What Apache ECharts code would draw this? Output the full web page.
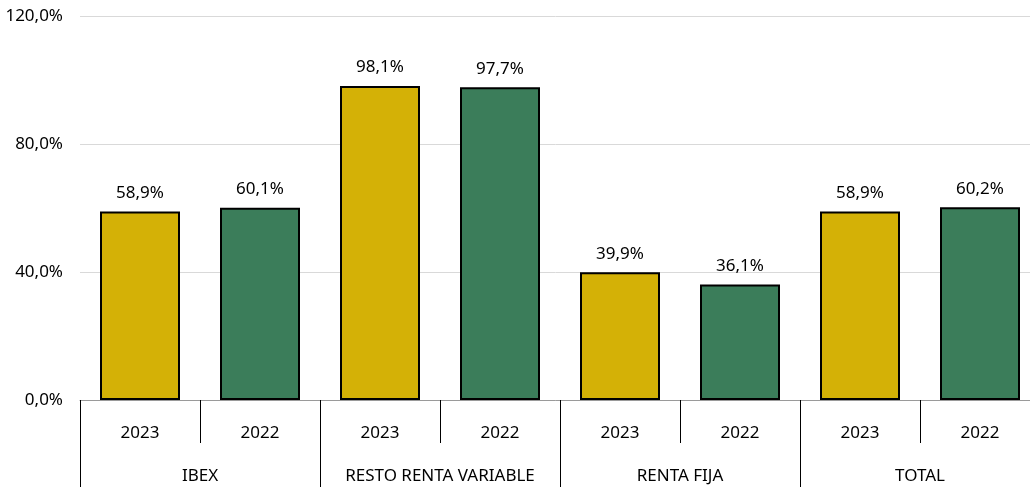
<!DOCTYPE html>
<html>
<head>
<meta charset="utf-8">
<script src="https://cdn.jsdelivr.net/npm/echarts@6/dist/echarts.min.js"></script>
<style>
html, body { margin: 0; padding: 0; background: #fff; }
#chart { width: 1030px; height: 488px; }
</style>
</head>
<body>
<div id="chart"></div>
<script>
var years = ["2023", "2022", "2023", "2022", "2023", "2022", "2023", "2022"];
var groups = ["IBEX", "RESTO RENTA VARIABLE", "RENTA FIJA", "TOTAL"];
var values = [58.9, 60.1, 98.1, 97.7, 39.9, 36.1, 58.9, 60.2];
var barColors = ["#D4B106", "#3B7D5A"];

function pct(v) {
    return v.toFixed(1).replace(".", ",") + "%";
}

var chart = echarts.init(document.getElementById("chart"));
var font = "Noto Sans";
var option = {
    animation: false,
    grid: { left: 80, width: 960, top: 16, bottom: 88, outerBoundsMode: "none" },
    xAxis: [{
        type: "category",
        data: years,
        position: "bottom",
        axisLine: { show: true, lineStyle: { color: "#9a9a9a", width: 1 } },
        axisTick: { show: true, interval: 0, length: 43, lineStyle: { color: "#000", width: 1 } },
        axisLabel: { interval: 0, margin: 25, color: "#000", fontSize: 17, fontFamily: font }
    }, {
        type: "category",
        data: groups,
        position: "bottom",
        axisLine: { show: false },
        axisTick: { show: true, interval: 0, length: 87, lineStyle: { color: "#000", width: 1 } },
        axisLabel: { interval: 0, margin: 68, color: "#000", fontSize: 17, fontFamily: font }
    }],
    yAxis: {
        type: "value",
        min: 0,
        max: 120,
        interval: 40,
        axisLine: { show: false },
        axisTick: { show: false },
        splitLine: { lineStyle: { color: "#d9d9d9", width: 1 } },
        axisLabel: { margin: 17, color: "#000", fontSize: 17, fontFamily: font, formatter: pct }
    },
    series: [{
        type: "bar",
        xAxisIndex: 0,
        data: values,
        barWidth: 80,
        itemStyle: {
            color: function (p) { return barColors[p.dataIndex % 2]; },
            borderColor: "#000",
            borderWidth: 2
        },
        label: {
            show: true,
            position: "top",
            distance: 10,
            color: "#000",
            fontSize: 17,
            fontFamily: font,
            formatter: function (p) { return pct(p.value); }
        }
    }]
};
chart.setOption(option);
window.addEventListener("resize", chart.resize);
</script>
</body>
</html>
